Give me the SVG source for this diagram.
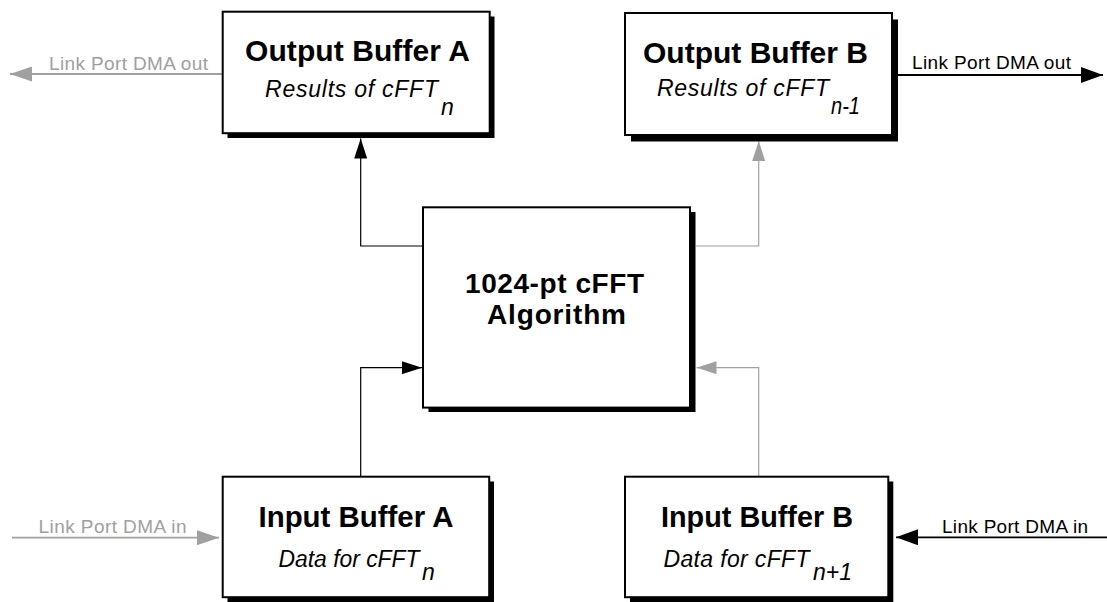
<svg xmlns="http://www.w3.org/2000/svg" width="1107" height="602" viewBox="0 0 1107 602">
<style>
  .box { fill: #fff; stroke: #000; stroke-width: 2; }
  .shadow { fill: #000; }
  .title { font-family: "Liberation Sans", Arial, sans-serif; font-weight: bold; font-size: 30px; fill: #000; }
  .ctitle { font-family: "Liberation Sans", Arial, sans-serif; font-weight: bold; font-size: 28px; fill: #000; }
  .sub { font-family: "Liberation Sans", Arial, sans-serif; font-style: italic; font-size: 23px; fill: #000; }
  .link { font-family: "Liberation Sans", Arial, sans-serif; font-size: 19px; }
  .blk { fill: #000; }
  .gry { fill: #a0a0a0; }
  .cb { fill: none; stroke: #000; stroke-width: 1.2; }
  .cg { fill: none; stroke: #a0a0a0; stroke-width: 1.2; }
  .lb { fill: none; stroke: #000; stroke-width: 1.8; }
  .lg { fill: none; stroke: #a0a0a0; stroke-width: 1.8; }
</style>
<defs>
  <marker id="ab" viewBox="0 0 20 13" refX="20" refY="6.5" markerWidth="20" markerHeight="13" orient="auto" markerUnits="userSpaceOnUse"><path d="M0,0 L20,6.5 L0,13 z" fill="#000"/></marker>
  <marker id="ag" viewBox="0 0 20 13" refX="20" refY="6.5" markerWidth="20" markerHeight="13" orient="auto" markerUnits="userSpaceOnUse"><path d="M0,0 L20,6.5 L0,13 z" fill="#a0a0a0"/></marker>
  <marker id="lab" viewBox="0 0 22 16" refX="22" refY="8" markerWidth="22" markerHeight="16" orient="auto" markerUnits="userSpaceOnUse"><path d="M0,0 L22,8 L0,16 z" fill="#000"/></marker>
  <marker id="lag" viewBox="0 0 22 15" refX="22" refY="7.5" markerWidth="22" markerHeight="15" orient="auto" markerUnits="userSpaceOnUse"><path d="M0,0 L22,7.5 L0,15 z" fill="#a0a0a0"/></marker>
</defs>

<g id="connectors">
  <path class="cb" d="M423,246 H360.7 V138.5" marker-end="url(#ab)"/>
  <path class="cg" d="M696,246 H758.7 V141" marker-end="url(#ag)"/>
  <path class="cb" d="M360.7,476.5 V367.7 H422" marker-end="url(#ab)"/>
  <path class="cg" d="M758.7,476.5 V367.7 H696.5" marker-end="url(#ag)"/>
  <path class="lg" d="M222,74 H10" marker-end="url(#lag)"/>
  <path class="lb" d="M897,75 H1103" marker-end="url(#lab)"/>
  <path class="lg" d="M12,537.7 H219" marker-end="url(#lag)"/>
  <path class="lb" d="M1107,537.3 H896" marker-end="url(#lab)"/>
  <text class="link gry" x="49" y="69.5" textLength="159" lengthAdjust="spacing">Link Port DMA out</text>
  <text class="link blk" x="912" y="68.5" textLength="159" lengthAdjust="spacing">Link Port DMA out</text>
  <text class="link gry" x="38.5" y="532.7" textLength="148" lengthAdjust="spacing">Link Port DMA in</text>
  <text class="link blk" x="942" y="532.7" textLength="146" lengthAdjust="spacing">Link Port DMA in</text>
</g>

<g id="output-buffer-a">
  <rect class="shadow" x="227.5" y="16.5" width="267" height="121.5"/>
  <rect class="box" x="222.7" y="11.7" width="267" height="121.5"/>
  <text class="title" x="245" y="61" textLength="225" lengthAdjust="spacing">Output Buffer A</text>
  <text class="sub" x="265" y="97" textLength="173" lengthAdjust="spacing">Results of cFFT</text>
  <text class="sub" x="441" y="115">n</text>
</g>

<g id="output-buffer-b">
  <rect class="shadow" x="631" y="19.5" width="267" height="122"/>
  <rect class="box" x="625" y="13" width="267" height="122"/>
  <text class="title" x="643" y="62.5" textLength="225" lengthAdjust="spacing">Output Buffer B</text>
  <text class="sub" x="657" y="96" textLength="172" lengthAdjust="spacing">Results of cFFT</text>
  <text class="sub" x="831" y="114" textLength="29" lengthAdjust="spacingAndGlyphs">n-1</text>
</g>

<g id="fft-algorithm">
  <rect class="shadow" x="428.5" y="212" width="267" height="200"/>
  <rect class="box" x="423" y="207.3" width="267" height="200.3"/>
  <text class="ctitle" x="465" y="293" textLength="179" lengthAdjust="spacing">1024-pt cFFT</text>
  <text class="ctitle" x="487" y="324" textLength="139" lengthAdjust="spacing">Algorithm</text>
</g>

<g id="input-buffer-a">
  <rect class="shadow" x="227.5" y="481.5" width="266.5" height="120.5"/>
  <rect class="box" x="222.7" y="476.7" width="266.5" height="120.5"/>
  <text class="title" x="258.5" y="527.3" textLength="195" lengthAdjust="spacingAndGlyphs">Input Buffer A</text>
  <text class="sub" x="278.5" y="566.7" textLength="141" lengthAdjust="spacingAndGlyphs">Data for cFFT</text>
  <text class="sub" x="422" y="580">n</text>
</g>

<g id="input-buffer-b">
  <rect class="shadow" x="630" y="481.5" width="263.3" height="120.5"/>
  <rect class="box" x="625" y="476.7" width="263.3" height="120.5"/>
  <text class="title" x="661" y="527.3" textLength="192" lengthAdjust="spacingAndGlyphs">Input Buffer B</text>
  <text class="sub" x="663.5" y="566.7" textLength="146" lengthAdjust="spacing">Data for cFFT</text>
  <text class="sub" x="813" y="580" textLength="39" lengthAdjust="spacing">n+1</text>
</g>
</svg>
